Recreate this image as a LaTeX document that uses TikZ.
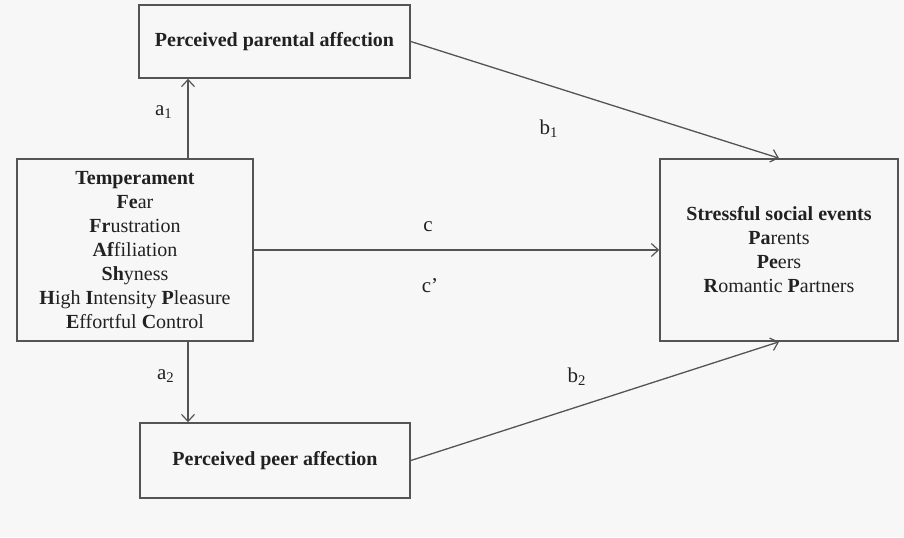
\documentclass[tikz,border=0pt]{standalone}
\usepackage{fontspec}
\setmainfont{Liberation Serif}
\usetikzlibrary{arrows.meta}

\newlength{\du}
\setlength{\du}{0.5pt}

\definecolor{bgcolor}{rgb}{0.969, 0.969, 0.969}
\definecolor{dialinecolor}{rgb}{0.330, 0.330, 0.330}
\definecolor{diatextcolor}{rgb}{0.130, 0.130, 0.130}

\tikzset{
  varbox/.style={draw=dialinecolor, line width=1.6\du, fill=bgcolor, inner sep=0pt,
    align=center, text=diatextcolor, font=\fontsize{10}{12}\selectfont},
  effect/.style={draw=dialinecolor, line width=1.3\du,
    -{Straight Barb[length=3.5pt, width=6.5pt, line width=0.6pt]}},
  coef/.style={text=diatextcolor, font=\fontsize{10.5}{12}\selectfont, inner sep=0pt}
}

\begin{document}
\begin{tikzpicture}
\pgftransformxscale{1.000000}
\pgftransformyscale{-1.000000}
\fill[bgcolor] (0\du,0\du) rectangle (904\du,537\du);
\useasboundingbox (0\du,0\du) rectangle (904\du,537\du);
% boxes
\node[varbox, minimum width=271\du, minimum height=73\du] (parent) at (274.500000\du,41.500000\du){\textbf{Perceived parental affection}};
\node[varbox, minimum width=236\du, minimum height=182\du] (temper) at (135.000000\du,250.000000\du){\textbf{Temperament}\\
\textbf{Fe}ar\\
\textbf{Fr}ustration\\
\textbf{Af}filiation\\
\textbf{Sh}yness\\
\textbf{H}igh \textbf{I}ntensity \textbf{P}leasure\\
\textbf{E}ffortful \textbf{C}ontrol};
\node[varbox, minimum width=238\du, minimum height=182\du] (stress) at (779.000000\du,250.000000\du){\textbf{Stressful social events}\\
\textbf{Pa}rents\\
\textbf{Pe}ers\\
\textbf{R}omantic \textbf{P}artners};
\node[varbox, minimum width=270\du, minimum height=75\du] (peer) at (275.000000\du,460.500000\du){\textbf{Perceived peer affection}};
% paths
\coordinate (acol) at (188.000000\du,250.000000\du);
\draw[effect] (temper.north -| acol)--(parent.south -| acol);
\draw[effect] (temper.south -| acol)--(peer.north -| acol);
\draw[effect] (temper.east)--(stress.west);
\draw[effect] (parent.east)--(stress.north);
\draw[effect] (peer.east)--(stress.south);
% coefficients
\node[coef] (la1) at (164.000000\du,112.000000\du){a\textsubscript{1}};
\node[coef] (la2) at (166.000000\du,376.000000\du){a\textsubscript{2}};
\node[coef] (lb1) at (549.000000\du,129.000000\du){b\textsubscript{1}};
\node[coef] (lb2) at (577.000000\du,377.000000\du){b\textsubscript{2}};
\node[coef] (lc) at (428.000000\du,227.000000\du){c};
\node[coef] (lcp) at (430.000000\du,286.000000\du){c’};
\end{tikzpicture}
\end{document}
